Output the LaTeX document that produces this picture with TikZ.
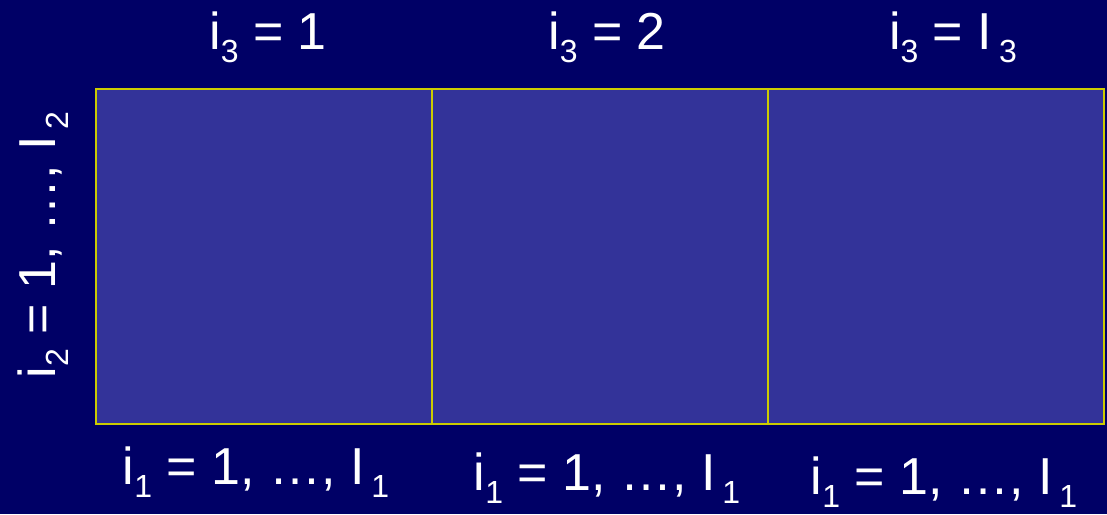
\documentclass[tikz,border=0pt]{standalone}
\usepackage{fontspec}
\setmainfont{Liberation Sans}
\definecolor{bgnavy}{HTML}{000066}
\definecolor{cellfill}{HTML}{333399}
\definecolor{cellline}{HTML}{CCCC00}
\newcommand{\lowsub}[1]{\raisebox{-13pt}{\fontsize{32}{32}\selectfont #1}}
\begin{document}
\begin{tikzpicture}[x=1pt,y=-1pt,
  cell/.style={draw=cellline,fill=cellfill,line width=1.6pt,minimum width=336pt,minimum height=335pt,inner sep=0pt,anchor=north west},
  lbl/.style={text=white,font=\fontsize{52}{52}\selectfont,inner sep=0pt,anchor=base}]
\fill[bgnavy] (0,0) rectangle (1107,514);
\useasboundingbox (0,0) rectangle (1107,514);
\node[cell] (b1) at (95,88) {};
\node[cell] (b2) at (431,88) {};
\node[cell] (b3) at (767,88) {};
\node[lbl] (t1) at (268,49) {i\lowsub{3} = 1};
\node[lbl] (t2) at (607,49) {i\lowsub{3} = 2};
\node[lbl] (t3) at (953,49) {i\lowsub{3} = I\hspace{7pt}\lowsub{3}};
\node[lbl] (d1) at (256,484) {i\lowsub{1} = 1, …, I\hspace{7pt}\lowsub{1}};
\node[lbl] (d2) at (607,490) {i\lowsub{1} = 1, …, I\hspace{7pt}\lowsub{1}};
\node[lbl] (d3) at (944,494) {i\lowsub{1} = 1, …, I\hspace{7pt}\lowsub{1}};
\node[lbl,rotate=90] (l1) at (55,245) {i\lowsub{2} = 1, …, I\hspace{7pt}\lowsub{2}};
\end{tikzpicture}
\end{document}
